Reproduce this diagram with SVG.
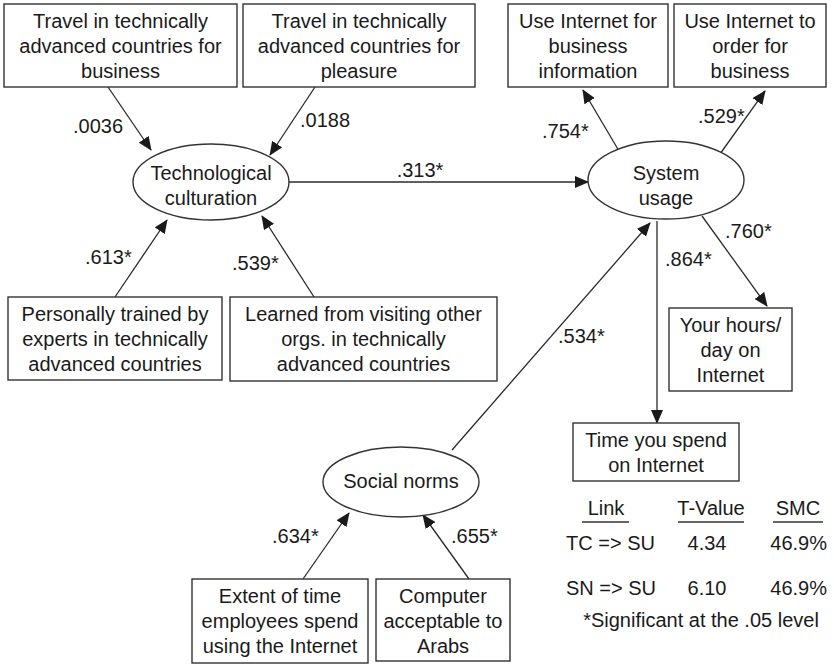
<svg xmlns="http://www.w3.org/2000/svg" width="834" height="664" viewBox="0 0 834 664">
  <style>
    text { font-family: "Liberation Sans", Arial, sans-serif; font-size: 20px; fill: #1a1a1a; }
    .box { fill: #fff; stroke: #333; stroke-width: 1.4; }
    .ell { fill: #fff; stroke: #333; stroke-width: 1.4; }
    .c { text-anchor: middle; }
    .e { text-anchor: end; }
    .edge { stroke: #2a2a2a; stroke-width: 1.3; fill: none; }
    .arr { marker-end: url(#ah); }
    .ul { stroke: #333; stroke-width: 1.3; }
  </style>
  <defs>
    <marker id="ah" markerWidth="14" markerHeight="12" refX="13" refY="6" orient="auto" markerUnits="userSpaceOnUse">
      <path d="M0,0 L14,6 L0,12 Z" fill="#1a1a1a"/>
    </marker>
  </defs>
  <rect width="834" height="664" fill="#fff"/>

  <g id="connectors">
    <line class="edge arr" x1="108" y1="87" x2="151" y2="150"/>
    <line class="edge arr" x1="315" y1="87" x2="270" y2="155"/>
    <line class="edge arr" x1="115" y1="297" x2="167" y2="220"/>
    <line class="edge arr" x1="314" y1="297" x2="262" y2="216"/>
    <line class="edge arr" x1="289" y1="182" x2="588" y2="182"/>
    <line class="edge arr" x1="619" y1="151" x2="583" y2="90"/>
    <line class="edge arr" x1="720" y1="154" x2="765" y2="91"/>
    <line class="edge arr" x1="702" y1="216" x2="767" y2="306"/>
    <line class="edge arr" x1="657" y1="221" x2="657" y2="423"/>
    <line class="edge arr" x1="452" y1="450" x2="650" y2="223"/>
    <line class="edge arr" x1="303" y1="579" x2="349" y2="513"/>
    <line class="edge arr" x1="469" y1="579" x2="423" y2="515"/>
    <text x="73" y="133">.0036</text>
    <text x="300" y="127">.0188</text>
    <text x="420" y="177" class="c">.313*</text>
    <text x="85" y="264">.613*</text>
    <text x="232" y="270">.539*</text>
    <text x="542" y="138">.754*</text>
    <text x="698" y="123">.529*</text>
    <text x="725" y="238">.760*</text>
    <text x="665" y="266">.864*</text>
    <text x="558" y="343">.534*</text>
    <text x="272" y="543">.634*</text>
    <text x="451" y="543">.655*</text>
  </g>

  <g id="travel-business">
    <rect class="box" x="4" y="4" width="233" height="83"/>
    <text class="c" x="120.5" y="28">Travel in technically</text>
    <text class="c" x="120.5" y="53">advanced countries for</text>
    <text class="c" x="120.5" y="78">business</text>
  </g>
  <g id="travel-pleasure">
    <rect class="box" x="243" y="4" width="232" height="83"/>
    <text class="c" x="359" y="28">Travel in technically</text>
    <text class="c" x="359" y="53">advanced countries for</text>
    <text class="c" x="359" y="78">pleasure</text>
  </g>
  <g id="internet-info">
    <rect class="box" x="508" y="4" width="160" height="83"/>
    <text class="c" x="588" y="28">Use Internet for</text>
    <text class="c" x="588" y="53">business</text>
    <text class="c" x="588" y="78">information</text>
  </g>
  <g id="internet-order">
    <rect class="box" x="674" y="4" width="152" height="83"/>
    <text class="c" x="750" y="28">Use Internet to</text>
    <text class="c" x="750" y="53">order for</text>
    <text class="c" x="750" y="78">business</text>
  </g>

  <g id="tech-culturation">
    <ellipse class="ell" cx="211" cy="182" rx="78" ry="38"/>
    <text class="c" x="211" y="180">Technological</text>
    <text class="c" x="211" y="205">culturation</text>
  </g>
  <g id="system-usage">
    <ellipse class="ell" cx="666" cy="180" rx="78" ry="39"/>
    <text class="c" x="666" y="180">System</text>
    <text class="c" x="666" y="205">usage</text>
  </g>

  <g id="personally-trained">
    <rect class="box" x="8" y="297" width="214" height="83"/>
    <text class="c" x="115" y="321">Personally trained by</text>
    <text class="c" x="115" y="346">experts in technically</text>
    <text class="c" x="115" y="371">advanced countries</text>
  </g>
  <g id="learned-visiting">
    <rect class="box" x="230" y="297" width="267" height="84"/>
    <text class="c" x="363.5" y="321">Learned from visiting other</text>
    <text class="c" x="363.5" y="346">orgs. in technically</text>
    <text class="c" x="363.5" y="371">advanced countries</text>
  </g>

  <g id="hours-day">
    <rect class="box" x="669" y="308" width="123" height="83"/>
    <text class="c" x="730.5" y="332">Your hours/</text>
    <text class="c" x="730.5" y="357">day on</text>
    <text class="c" x="730.5" y="382">Internet</text>
  </g>
  <g id="time-spend">
    <rect class="box" x="573" y="423" width="166" height="58"/>
    <text class="c" x="656" y="447">Time you spend</text>
    <text class="c" x="656" y="472">on Internet</text>
  </g>

  <g id="social-norms">
    <ellipse class="ell" cx="401" cy="482" rx="78" ry="35"/>
    <text class="c" x="401" y="488">Social norms</text>
  </g>
  <g id="extent-time">
    <rect class="box" x="192" y="579" width="176" height="84"/>
    <text class="c" x="280" y="603">Extent of time</text>
    <text class="c" x="280" y="628">employees spend</text>
    <text class="c" x="280" y="653">using the Internet</text>
  </g>
  <g id="computer-acceptable">
    <rect class="box" x="376" y="579" width="134" height="82"/>
    <text class="c" x="443" y="603">Computer</text>
    <text class="c" x="443" y="628">acceptable to</text>
    <text class="c" x="443" y="653">Arabs</text>
  </g>

  <g id="results-table">
    <text class="c" x="606" y="515">Link</text>
    <text class="c" x="711" y="515">T-Value</text>
    <text class="c" x="798" y="515">SMC</text>
    <line class="ul" x1="582" y1="522" x2="629" y2="522"/>
    <line class="ul" x1="678" y1="522" x2="744" y2="522"/>
    <line class="ul" x1="773" y1="522" x2="823" y2="522"/>
    <text x="566" y="550">TC =&gt; SU</text>
    <text class="c" x="707" y="550">4.34</text>
    <text class="e" x="827" y="550">46.9%</text>
    <text x="566" y="595">SN =&gt; SU</text>
    <text class="c" x="707" y="595">6.10</text>
    <text class="e" x="827" y="595">46.9%</text>
    <text class="c" x="701" y="627">*Significant at the .05 level</text>
  </g>
</svg>
